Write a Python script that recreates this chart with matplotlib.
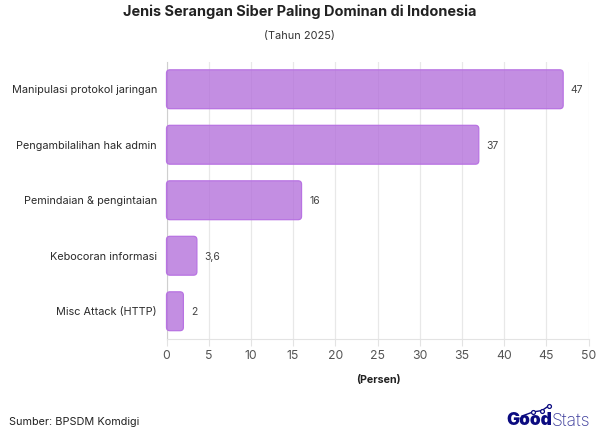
import matplotlib
matplotlib.use("Agg")
from matplotlib import pyplot as plt
from matplotlib.colors import to_rgba
from matplotlib.patches import FancyBboxPatch
from matplotlib.transforms import ScaledTranslation

plt.rcParams['font.family'] = ['Inter', 'DejaVu Sans']

# data
categories = ["Manipulasi protokol jaringan", "Pengambilalihan hak admin",
              "Pemindaian & pengintaian", "Kebocoran informasi", "Misc Attack (HTTP)"]
values = [47, 37, 16, 3.6, 2]
value_labels = ["47", "37", "16", "3,6", "2"]
xticks = [0, 5, 10, 15, 20, 25, 30, 35, 40, 45, 50]

W, H = 598, 431
fig = plt.figure(figsize=(W / 100, H / 100), dpi=100)
ax = fig.add_axes([166.5 / W, 1 - 340 / H, 422 / W, 277.5 / H])
ax.set_xlim(0, 50)
ax.set_ylim(len(categories) - 0.5, -0.5)

# rounded bars, mutation_aspect evens out the x/y data scales
bar_h = 0.7
aspect = (1 / 55.5) / (1 / 8.44)
for i, v in enumerate(values):
    box = FancyBboxPatch((0, i - bar_h / 2), v, bar_h,
                         boxstyle="round,pad=0,rounding_size=0.4",
                         mutation_aspect=aspect,
                         facecolor=to_rgba("#b36fdb", 0.78), edgecolor="#b873e2", linewidth=0.9,
                         zorder=3, clip_on=False)
    ax.add_patch(box)
    ax.text(v + 0.9, i, value_labels[i], va="center", ha="left", fontsize=7.5, color="#444444")

ax.set_yticks(range(len(categories)))
ax.set_yticklabels(categories, fontsize=7.85, color="#2b2b2b")
ax.set_xticks(xticks)
ax.set_xticklabels([str(t) for t in xticks], fontsize=8.8, color="#555555")
ax.tick_params(axis="y", length=0, pad=6.8)
ax.tick_params(axis="x", length=5, width=0.8, color="#e3e3e3", pad=2)
# labels sit a pixel too low otherwise
for lab in ax.get_yticklabels():
    lab.set_transform(lab.get_transform() + ScaledTranslation(0, 1 / 100, fig.dpi_scale_trans))
ax.grid(axis="x", color="#e8e8e8", linewidth=0.9, zorder=0)
ax.set_axisbelow(True)
for s in ["top", "right"]:
    ax.spines[s].set_visible(False)
ax.spines["bottom"].set_color("#e3e3e3")
ax.spines["left"].set_color("#cfcfcf")

# titles and footer
fig.text(299.5 / W, 1 - 12 / H, "Jenis Serangan Siber Paling Dominan di Indonesia", ha="center", va="center",
         fontsize=10.45, fontweight="bold", color="#222222")
fig.text(299 / W, 1 - 36 / H, "(Tahun 2025)", ha="center", va="center", fontsize=7.9, color="#333333")
fig.text(378 / W, 1 - 380 / H, "(Persen)", ha="center", va="center", fontsize=7.7, fontweight="bold", color="#222222")
fig.text(9 / W, 1 - 422 / H, "Sumber: BPSDM Komdigi", ha="left", va="center", fontsize=7.85, color="#222222")

# logo
fig.text(506 / W, 1 - 421 / H, "Good", ha="left", va="center", fontsize=12.5, fontweight="black", color="#0b0b80")
fig.text(552 / W, 1 - 421 / H, "Stats", ha="left", va="center", fontsize=12.6, fontweight="light", color="#3a3a9a")
logo_x = [522, 533, 542, 548.5]
logo_y = [417, 413, 411.5, 407]
fig.add_artist(plt.Line2D([x / W for x in logo_x[:2]], [1 - y / H for y in logo_y[:2]], color="#0b0b80", linewidth=1.0))
fig.add_artist(plt.Line2D([x / W for x in logo_x[1:]], [1 - y / H for y in logo_y[1:]], color="#0b0b80", linewidth=1.0,
                          marker="o", markersize=2.8, markerfacecolor="white", markeredgecolor="#0b0b80",
                          markeredgewidth=0.9))

fig.savefig("out.png", dpi=100)
